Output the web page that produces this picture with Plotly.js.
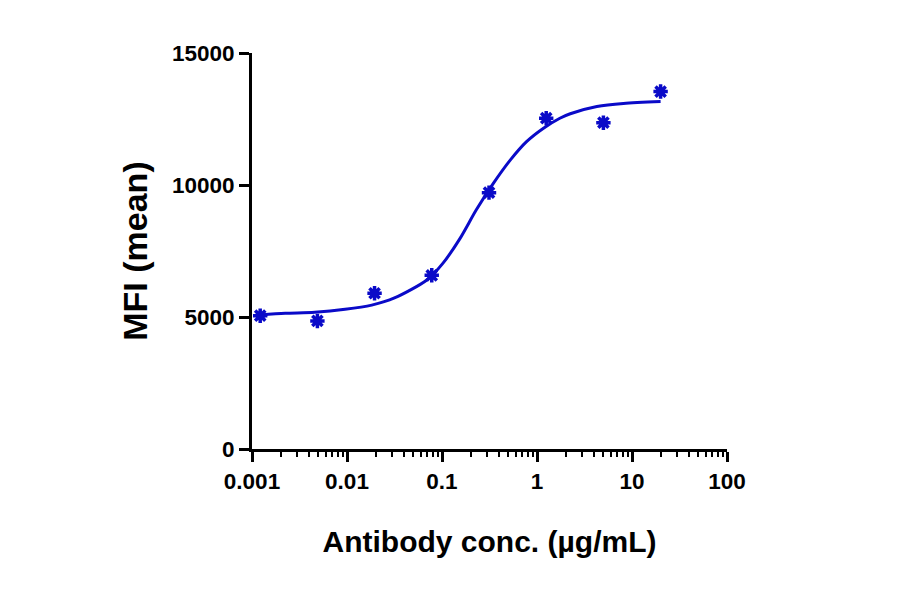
<!DOCTYPE html>
<html>
<head>
<meta charset="utf-8">
<script src="https://cdn.plot.ly/plotly-3.0.1.min.js"></script>
<style>
  body { margin: 0; background: #fff; }
  #chart { width: 900px; height: 594px; }
</style>
</head>
<body>
<div id="chart"></div>
<script>
// measured points (mean MFI per concentration)
var conc = [0.00122, 0.00488, 0.0195, 0.078, 0.3125, 1.25, 5, 20];
var mfi = [5050, 4850, 5900, 6580, 9710, 12530, 12360, 13540];

// fitted curve
var fitConc = [0.00122, 0.00224, 0.00457, 0.00955, 0.0182, 0.0316, 0.0692, 0.102,
  0.155, 0.229, 0.347, 0.525, 0.776, 1.17, 1.74, 2.24, 4.27, 8.13, 20];
var fitMfi = [5080, 5140, 5180, 5290, 5450, 5720, 6400, 7030,
  7980, 9050, 10060, 10950, 11640, 12150, 12530, 12700, 12970, 13090, 13160];

var xTicks = [0.001, 0.01, 0.1, 1, 10, 100];
var xTickText = ["0.001", "0.01", "0.1", "1", "10", "100"];
var yTicks = [0, 5000, 10000, 15000];
var yTickText = ["0", "5000", "10000", "15000"];

var blue = "#0a0ac8";

var data = [
  {
    x: fitConc,
    y: fitMfi,
    type: "scatter",
    mode: "lines",
    line: { color: blue, width: 3, shape: "spline", smoothing: 0.8 },
    hoverinfo: "skip"
  },
  {
    x: conc,
    y: mfi,
    type: "scatter",
    mode: "markers",
    marker: { symbol: "asterisk", size: 12, color: blue, line: { color: blue, width: 3.5 } }
  }
];

var fam = "Liberation Sans, Arial, sans-serif";
var tickFont = { family: fam, size: 22.5, color: "#000", weight: "bold" };

var layout = {
  width: 900,
  height: 594,
  showlegend: false,
  paper_bgcolor: "#fff",
  plot_bgcolor: "#fff",
  margin: { l: 252, r: 173, t: 53, b: 145 },
  font: { family: fam, color: "#000" },
  xaxis: {
    type: "log",
    range: [-3, 2],
    tickvals: xTicks,
    ticktext: xTickText,
    ticks: "outside",
    ticklen: 10,
    tickwidth: 3,
    tickcolor: "#000",
    showline: true,
    linewidth: 3,
    linecolor: "#000",
    showgrid: false,
    zeroline: false,
    tickfont: tickFont,
    minor: { ticks: "outside", ticklen: 5, tickwidth: 2, tickcolor: "#000", dtick: "D1", showgrid: false },
    title: { text: "Antibody conc. (µg/mL)", standoff: 38,
      font: { family: fam, size: 30, color: "#000", weight: "bold" } }
  },
  yaxis: {
    range: [0, 15000],
    tickvals: yTicks,
    ticktext: yTickText,
    ticks: "outside",
    ticklen: 10,
    tickwidth: 3,
    tickcolor: "#000",
    showline: true,
    linewidth: 3,
    linecolor: "#000",
    showgrid: false,
    zeroline: false,
    tickfont: tickFont,
    title: { text: "MFI (mean)", standoff: 15,
      font: { family: fam, size: 34, color: "#000", weight: "bold" } }
  }
};

Plotly.newPlot("chart", data, layout, { displayModeBar: false, staticPlot: true });
</script>
</body>
</html>
